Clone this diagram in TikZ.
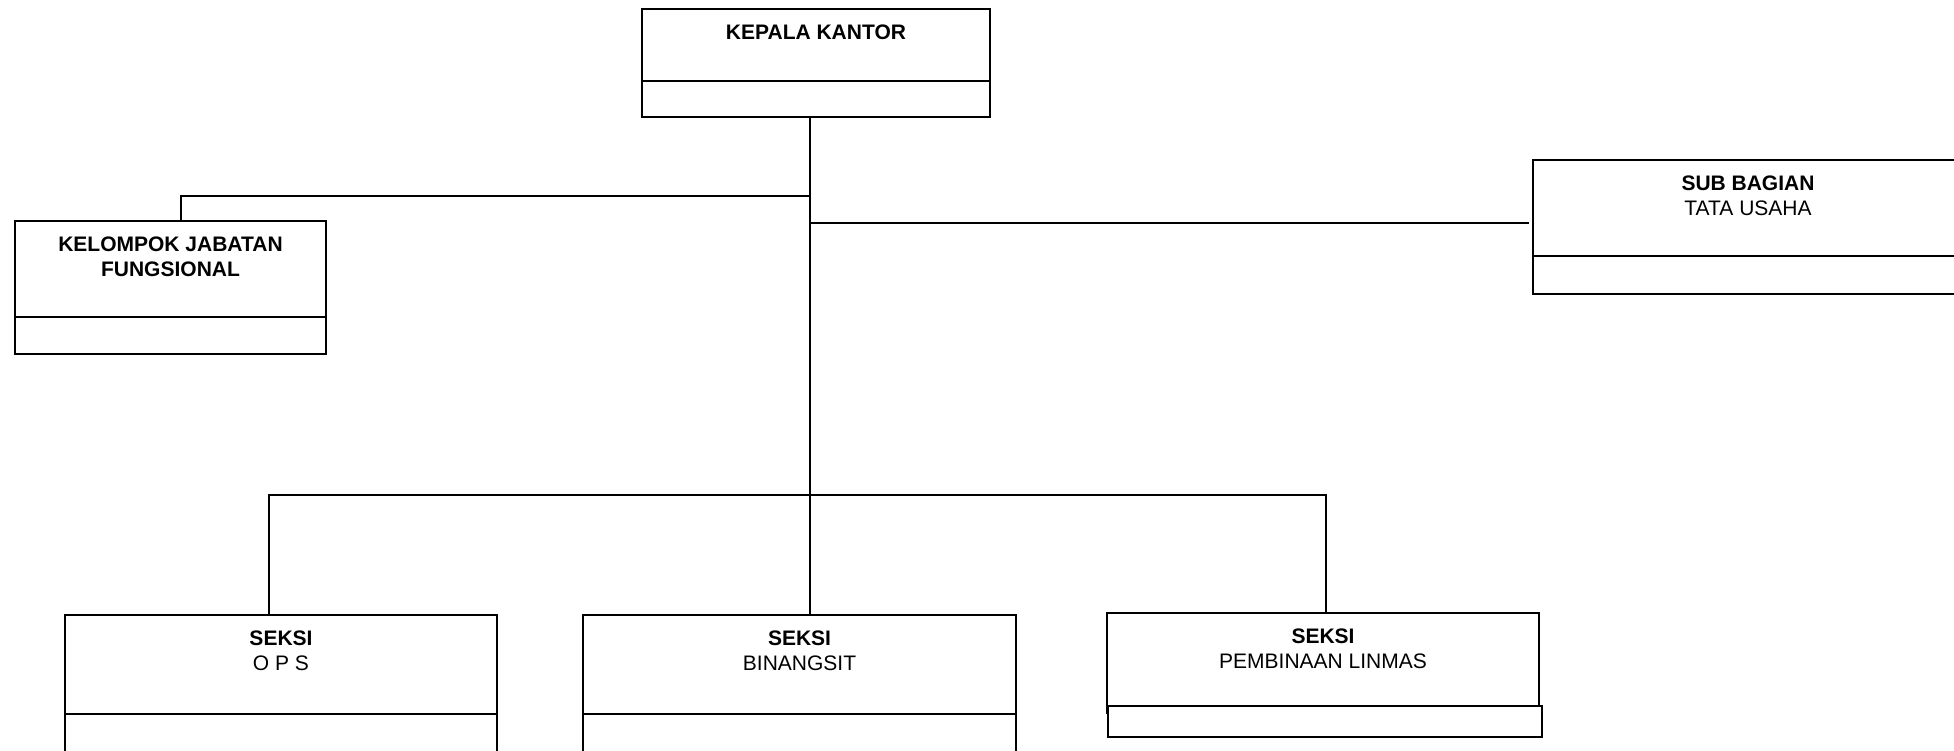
\documentclass[tikz,border=0pt]{standalone}
\usepackage{fontspec}
\setmainfont{Liberation Sans}
\usetikzlibrary{positioning}
\def\BoxLine{1.4pt}
\def\TextGap{12pt}
\tikzset{
  unit/.style={draw, line width=\BoxLine, rectangle, inner sep=0pt, outer sep=0pt, anchor=north west},
  head/.style={inner sep=0pt, align=center},
  link/.style={line width=\BoxLine}
}
\begin{document}
\begin{tikzpicture}[x=0.75pt,y=-0.75pt,font=\fontsize{15.75pt}{18.75pt}\selectfont]
\useasboundingbox (0,0) rectangle (1954,750);
\clip (0,0) rectangle (1954,750);
% kepala kantor
\node[unit, minimum width=261pt, minimum height=54pt] (kk) at (642,9) {};
\node[unit, minimum width=261pt, minimum height=27pt] (kkb) at (kk.south west) {};
\node[head, below=\TextGap of kk.north] (kkt) {\bfseries KEPALA KANTOR};
% kelompok jabatan fungsional
\node[unit, minimum width=233.25pt, minimum height=72pt] (kjf) at (15,221) {};
\node[unit, minimum width=233.25pt, minimum height=27.75pt] (kjfb) at (kjf.south west) {};
\node[head, below=\TextGap of kjf.north] (kjft) {\bfseries KELOMPOK JABATAN\\\bfseries FUNGSIONAL};
% sub bagian
\node[unit, minimum width=322.5pt, minimum height=72pt] (sb) at (1533,160) {};
\node[unit, minimum width=322.5pt, minimum height=28.5pt] (sbb) at (sb.south west) {};
\node[head, below=\TextGap of sb.north] (sbt) {\bfseries SUB BAGIAN\\TATA USAHA};
% seksi
\node[unit, minimum width=324pt, minimum height=74.25pt] (ops) at (65,615) {};
\node[unit, minimum width=324pt, minimum height=45pt] (opsb) at (ops.south west) {};
\node[head, below=\TextGap of ops.north] (opst) {\bfseries SEKSI\\O P S};
%
\node[unit, minimum width=324.75pt, minimum height=74.25pt] (bin) at (583,615) {};
\node[unit, minimum width=324.75pt, minimum height=45pt] (binb) at (bin.south west) {};
\node[head, below=\TextGap of bin.north] (bint) {\bfseries SEKSI\\BINANGSIT};
%
\node[unit, minimum width=324pt, minimum height=75pt] (lin) at (1107,613) {};
\node[unit, fill=white, minimum width=325.5pt, minimum height=23.25pt] (linb) at (1108,706) {};
\node[head, below=\TextGap of lin.north] (lint) {\bfseries SEKSI\\PEMBINAAN LINMAS};
% garis
\coordinate (tr) at (810,495);
\coordinate (kjfc) at (181,196);
\coordinate (sbc) at (1529,223);
\coordinate (bl) at (269,495);
\coordinate (br) at (1326,495);
\draw[link] (kkb.south -| tr) -- (bin.north -| tr);
\draw[link] (kjf.north -| kjfc) -- (kjfc) -- (kjfc -| tr);
\draw[link] (sbc -| tr) -- (sbc);
\draw[link] (ops.north -| bl) -- (bl) -- (br) -- (lin.north -| br);
\end{tikzpicture}
\end{document}
